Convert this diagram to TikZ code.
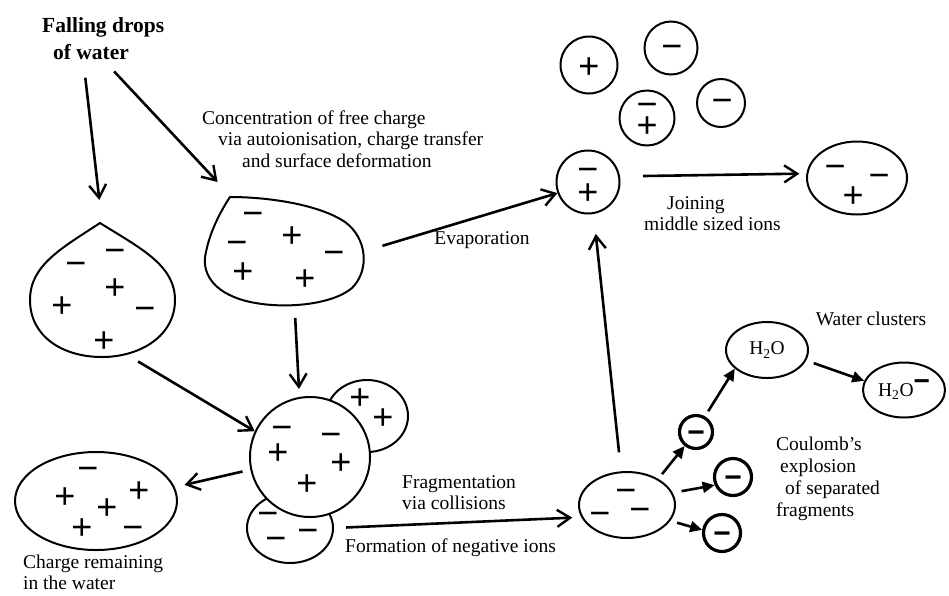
\documentclass[tikz,border=0pt]{standalone}
\usepackage{fontspec}
\setmainfont{Liberation Serif}
\newfontfamily\signfam{Liberation Sans}
\usetikzlibrary{arrows.meta,shapes.geometric}

\tikzset{
  txt/.style={font=\fontsize{19.5}{21.5}\selectfont, inner sep=0pt, align=left},
  ttl/.style={font=\fontsize{21.5}{27}\selectfont\bfseries, inner sep=0pt, align=left},
  sgn/.style={font=\signfam\fontsize{36}{36}\selectfont, inner sep=0pt, text height=21.5pt, text depth=0pt, anchor=base, yshift=-12.7pt},
  bsgn/.style={font=\signfam\bfseries\fontsize{30}{30}\selectfont, inner sep=0pt, text height=21pt, text depth=0pt},
  ion/.style={draw, circle, line width=2pt, inner sep=0pt},
  nion/.style={draw, circle, line width=3.2pt, inner sep=0pt, bsgn},
  blob/.style={draw, ellipse, line width=2pt, inner sep=0pt},
  hole/.style={ellipse, inner sep=0pt},
  arr/.style={-{Straight Barb[length=13pt,width=17pt,line width=2.4pt]}, line width=2.6pt},
  tarr/.style={-{Triangle[length=12pt,width=11pt]}, line width=2.6pt}
}

\begin{document}
\begin{tikzpicture}[x=1pt,y=-1pt]
\useasboundingbox (0,0) rectangle (949,595);

% falling drops
\node[ttl, anchor=west] (falling) at (42,38.5) {Falling drops\\\hspace*{11pt}of water};

\draw[line width=2pt] (100,223) .. controls (140,248) and (175,265) .. (175,300)
  .. controls (175,336) and (140,357) .. (102,357)
  .. controls (62,357) and (30,336) .. (30,300)
  .. controls (30,265) and (62,248) .. (100,223) -- cycle;
\node[hole, minimum width=146pt, minimum height=134pt] (lowdrop) at (102,290) {};

\draw[line width=2pt] (230,197) .. controls (270,197) and (320,205) .. (345,222)
  .. controls (367,238) and (370,270) .. (352,288)
  .. controls (332,305) and (282,310) .. (246,301)
  .. controls (212,292) and (201,272) .. (206,252)
  .. controls (210,232) and (220,212) .. (230,197) -- cycle;
\node[hole, minimum width=160pt, minimum height=108pt] (topdrop) at (285,251) {};

\node[txt, anchor=west] (concentr) at (202,139) {Concentration of free charge\\\hspace*{16pt}via autoionisation, charge transfer\\\hspace*{40pt}and surface deformation};

% fragmentation
\node[blob, minimum width=82pt, minimum height=72pt] (plusblob) at (367,416) {};
\node[blob, minimum width=86pt, minimum height=70pt] (minusblob) at (290,528) {};
\node[ion, fill=white, minimum size=120pt] (big) at (310,457) {};
\node[blob, minimum width=162pt, minimum height=98pt] (rest) at (96,501) {};

\node[txt, anchor=west] (remain) at (23,572.5) {Charge remaining\\in the water};
\node[txt, anchor=west] (fragm) at (402,492.5) {Fragmentation\\via collisions};
\node[txt, anchor=west] (format) at (345,548) {Formation of negative ions};

% ions
\node[blob, minimum width=96pt, minimum height=66pt] (negion) at (627,505) {};
\node[nion, minimum size=33pt] (n1) at (696,432) {−};
\node[nion, minimum size=37pt] (n2) at (733,477) {−};
\node[nion, minimum size=37pt] (n3) at (722,533) {−};
\node[blob, txt, minimum width=82pt, minimum height=56pt] (water) at (767,350) {H\textsubscript{2}O};
\node[blob, txt, minimum width=82pt, minimum height=55pt] (waterneg) at (904,390) {H\textsubscript{2}O\raisebox{6pt}{\signfam\bfseries\fontsize{28}{28}\selectfont −}};
\node[txt] (clusters) at (871,319) {Water clusters};
\node[txt, anchor=west, font=\fontsize{19.5}{22}\selectfont] (coulomb) at (776,479) {Coulomb’s\\\hspace*{4pt}explosion\\\hspace*{9pt}of separated\\fragments};

\node[ion, minimum size=63pt] (mix) at (588,182) {};
\node[blob, minimum width=100pt, minimum height=73pt] (joined) at (857,178) {};
\node[txt, anchor=west] (joining) at (644,213.5) {\hspace*{23pt}Joining\\middle sized ions};

\node[ion, minimum size=57pt] (pa) at (589,65) {};
\node[ion, minimum size=53pt] (ma) at (671,48) {};
\node[ion, minimum size=55pt] (mb) at (647,118) {};
\node[ion, minimum size=48pt] (mc) at (721,103) {};

% charges
\foreach \x/\y/\s [count=\i] in {115/250/−, 76/263/−, 115/287/+, 62/305/+, 145/308/−, 104/340/+,
    253/213/−, 237/242/−, 292/235/+, 334/252/−, 243/271/+, 305/278/+,
    282/427/−, 331/434/−, 278/452/+, 341/462/+, 307/483/+,
    360/397/+, 383/417/+, 268/513/−, 308/530/−, 276/538/−,
    88/468/−, 65/496/+, 139/490/+, 107/507/+, 82/527/+, 133/527/−,
    626/490/−, 600/513/−, 640/509/−,
    589/66/+, 672/46/−, 647/104/−, 647/125/+, 722/100/−,
    588/169/−, 588/192/+, 835/166/−, 879/175/−, 853/195/+}
  \node[sgn] (sg\i) at (\x,\y) {\s};

% connectors
\draw[arr, shorten <=18pt, shorten >=23pt] ([xshift=-20pt]falling.south) -- (lowdrop.north);
\draw[arr, shorten <=16pt, shorten >=33pt] (falling.south) -- (topdrop.135);
\draw[arr, shorten <=18pt] (topdrop.east) -- (mix.200);
\node[txt] (evap) at (482,240) {Evaporation};
\draw[arr, shorten <=13pt, shorten >=8pt] (topdrop.280) -- (big.100);
\draw[arr, shorten <=15pt] (lowdrop.290) -- (big.155);
\draw[arr, shorten <=8pt, shorten >=10pt] (big.192) -- (rest.10);
\draw[arr, shorten <=12pt, shorten >=9pt] (minusblob.east) -- (negion.195);
\draw[arr, shorten <=19pt, shorten >=20pt] (negion.100) -- (mix.280);
\draw[tarr, shorten <=6pt] (negion.40) -- (n1.231);
\draw[tarr, shorten <=9pt] (negion.15) -- (n2.204);
\draw[tarr, shorten <=7pt] (negion.340) -- (n3.171);
\draw[tarr, shorten <=6pt] (n1.60) -- (water.210);
\draw[tarr, shorten <=8pt] (water.345) -- (waterneg.167);
\draw[arr, shorten <=23pt, shorten >=7pt] (mix.10) -- (joined.175);

\end{tikzpicture}
\end{document}
